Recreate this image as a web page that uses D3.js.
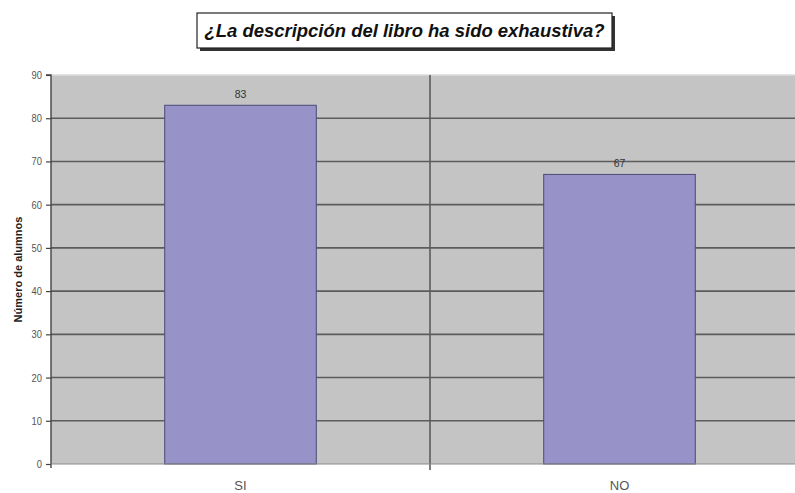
<!DOCTYPE html>
<html>
<head>
<meta charset="utf-8">
<script src="https://cdn.jsdelivr.net/npm/d3@7"></script>
<style>
  html, body { margin: 0; padding: 0; background: #fff; }
  svg { display: block; }
</style>
</head>
<body>
<svg id="chart" width="795" height="493"></svg>
<script>
// Survey answers: was the book description exhaustive?
const titleText = "¿La descripción del libro ha sido exhaustiva?";
const yAxisTitle = "Número de alumnos";
const categories = ["SI", "NO"];
const values = [83, 67];
const yTicks = [0, 10, 20, 30, 40, 50, 60, 70, 80, 90];

const svg = d3.select("#chart");
const font = "Arial, 'Liberation Sans', sans-serif";

const plot = { left: 51, top: 75, right: 809, bottom: 464 };

const x = d3.scaleBand()
  .domain(categories)
  .range([plot.left, plot.right])
  .paddingInner(0)
  .paddingOuter(0);

const y = d3.scaleLinear()
  .domain([0, 90])
  .range([plot.bottom, plot.top]);

const barFrac = 0.4;

// Plot background
svg.append("rect")
  .attr("x", plot.left)
  .attr("y", plot.top)
  .attr("width", plot.right - plot.left)
  .attr("height", plot.bottom - plot.top)
  .attr("fill", "#c4c4c4");

// Top edge of the plot area
svg.append("line")
  .attr("x1", plot.left).attr("x2", plot.right)
  .attr("y1", y(90)).attr("y2", y(90))
  .attr("stroke", "#dcdcdc").attr("stroke-width", 1.5);

// Horizontal gridlines
svg.append("g")
  .selectAll("line")
  .data(yTicks.filter(t => t > 0 && t < 90))
  .join("line")
  .attr("x1", plot.left).attr("x2", plot.right)
  .attr("y1", d => y(d)).attr("y2", d => y(d))
  .attr("stroke", "#5c5c5c").attr("stroke-width", 1.6);

// Vertical divider between categories
svg.append("g")
  .selectAll("line")
  .data(categories.slice(1))
  .join("line")
  .attr("x1", d => x(d)).attr("x2", d => x(d))
  .attr("y1", plot.top).attr("y2", plot.bottom + 6)
  .attr("stroke", "#5c5c5c").attr("stroke-width", 1.6);

// Bars
svg.append("g")
  .selectAll("rect")
  .data(categories)
  .join("rect")
  .attr("x", (d) => x(d) + x.bandwidth() * (1 - barFrac) / 2)
  .attr("y", (d, i) => y(values[i]))
  .attr("width", x.bandwidth() * barFrac)
  .attr("height", (d, i) => y(0) - y(values[i]))
  .attr("fill", "#9792c8")
  .attr("stroke", "#4c4a78")
  .attr("stroke-width", 1);

// Value labels
svg.append("g")
  .selectAll("text")
  .data(categories)
  .join("text")
  .attr("x", d => x(d) + x.bandwidth() / 2)
  .attr("y", (d, i) => y(values[i]) - 7)
  .attr("text-anchor", "middle")
  .attr("font-family", font)
  .attr("font-size", 10.5)
  .attr("fill", "#333")
  .text((d, i) => values[i]);

// Y axis
const yAxis = d3.axisLeft(y)
  .tickValues(yTicks)
  .tickSize(5)
  .tickPadding(3)
  .tickFormat(d3.format("d"));

const gy = svg.append("g")
  .attr("transform", `translate(${plot.left},0)`)
  .call(yAxis);
gy.select(".domain")
  .attr("stroke", "#444").attr("stroke-width", 1.4)
  .attr("d", `M-5,${plot.top}H0V${plot.bottom + 4}`);
gy.selectAll(".tick line").attr("stroke", "#444").attr("stroke-width", 1.2);
gy.selectAll(".tick text")
  .attr("font-family", font)
  .attr("font-size", 11)
  .attr("fill", "#555")
  .attr("transform", "scale(0.85,1)")
  .attr("x", -9 / 0.85);

// X axis baseline
svg.append("line")
  .attr("x1", plot.left).attr("x2", plot.right)
  .attr("y1", plot.bottom).attr("y2", plot.bottom)
  .attr("stroke", "#8a8a8a").attr("stroke-width", 1.2);

// Category labels
svg.append("g")
  .selectAll("text")
  .data(categories)
  .join("text")
  .attr("x", d => x(d) + x.bandwidth() / 2)
  .attr("y", 490)
  .attr("text-anchor", "middle")
  .attr("font-family", font)
  .attr("font-size", 13)
  .attr("fill", "#555")
  .text(d => d);

// Y axis title
svg.append("text")
  .attr("transform", `translate(22,${(plot.top + plot.bottom) / 2}) rotate(-90)`)
  .attr("text-anchor", "middle")
  .attr("font-family", font)
  .attr("font-weight", "bold")
  .attr("font-size", 11)
  .attr("fill", "#222")
  .text(yAxisTitle);

// Title box with drop shadow
const tb = { x: 197, y: 13, w: 415, h: 35 };
svg.append("rect")
  .attr("x", tb.x + 3).attr("y", tb.y + 3)
  .attr("width", tb.w).attr("height", tb.h)
  .attr("fill", "#333");
svg.append("rect")
  .attr("x", tb.x).attr("y", tb.y)
  .attr("width", tb.w).attr("height", tb.h)
  .attr("fill", "#fff")
  .attr("stroke", "#222").attr("stroke-width", 1.2);
svg.append("text")
  .attr("x", tb.x + tb.w / 2)
  .attr("y", tb.y + 24)
  .attr("text-anchor", "middle")
  .attr("font-family", font)
  .attr("font-weight", "bold")
  .attr("font-style", "italic")
  .attr("font-size", 18)
  .attr("textLength", 400)
  .attr("lengthAdjust", "spacingAndGlyphs")
  .attr("fill", "#111")
  .text(titleText);
</script>
</body>
</html>
